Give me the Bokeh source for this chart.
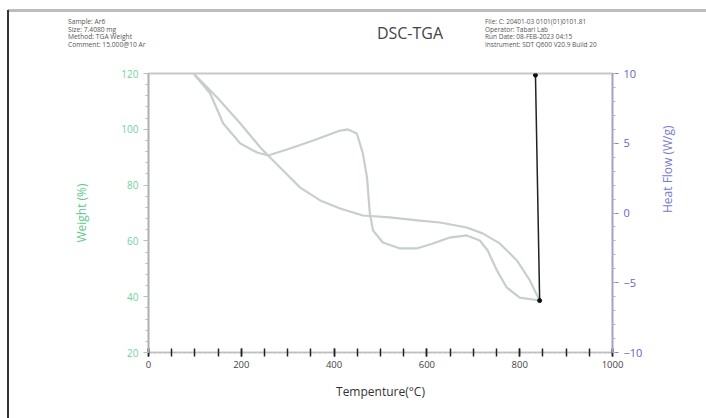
import math
from bokeh.plotting import figure
from bokeh.models import Range1d, LinearAxis, SingleIntervalTicker, Div
from bokeh.layouts import column
from bokeh.embed import file_html
from bokeh.resources import INLINE

# ---- data ----
weight_temp = [97, 148, 198, 241, 262, 290, 327, 370, 413, 462, 520, 585, 628,
               686, 720, 757, 794, 822, 843]
weight_pct = [120.0, 111.4, 102.1, 93.5, 89.9, 85.2, 79.1, 74.5, 71.6, 69.1, 68.4,
              67.3, 66.6, 64.8, 62.7, 59.1, 53.0, 45.8, 38.6]

hf_temp = [97, 133, 161, 198, 234, 258, 305, 355, 413, 430, 449, 462, 471, 477,
           484, 505, 542, 578, 613, 649, 686, 714, 731, 751, 772, 800, 843]
hf_val = [10.0, 8.57, 6.42, 4.98, 4.34, 4.12, 4.62, 5.20, 5.91, 5.99, 5.70, 4.27,
          2.54, -0.04, -1.25, -2.11, -2.54, -2.54, -2.19, -1.76, -1.61, -1.97,
          -2.69, -4.12, -5.34, -6.06, -6.27]

marker_temp = [834, 843]
marker_weight = [119.4, 38.6]

header_left = ["Sample: Ar6", "Size: 7.4080 mg", "Method: TGA Weight",
               "Comment: 15.000@10 Ar"]
header_right = ["File: C: 20401-03 0101(01)0101.81", "Operator: Tabari Lab",
                "Run Date: 08-FEB-2023 04:15", "Instrument: SDT Q600 V20.9 Build 20"]
chart_title = "DSC-TGA"

W, H = 706, 418
HEAD_H = 63
FL, FR, FT, FB = 148, 612, 73, 352
FONT = "Open Sans"
EDGE = 9           # page edge (margin 7 + 2px border)
RIGHT_END = W + 8  # figure extends a little past the window edge
BOTTOM_END = H + 6

# ---------------- header (HTML text) ----------------
left_html = "<br>".join(header_left)
right_html = "<br>".join(header_right)
head_html = f"""
<div style="position:relative;width:{W}px;height:{HEAD_H}px;font-family:'{FONT}',sans-serif;overflow:hidden;margin:0;padding:0;">
  <div style="position:absolute;left:8px;top:9px;width:{W - 8}px;height:3px;background:#bdbdbd;"></div>
  <div style="position:absolute;left:7px;top:10px;width:2px;height:{HEAD_H - 10}px;background:#333333;"></div>
  <div style="position:absolute;left:68px;top:18px;font-size:6.7px;line-height:7.5px;color:#555555;white-space:nowrap;">{left_html}</div>
  <div style="position:absolute;left:485px;top:18px;font-size:6.5px;line-height:7.5px;color:#555555;white-space:nowrap;">{right_html}</div>
  <div style="position:absolute;left:350px;width:120px;top:22px;font-size:16px;line-height:22px;text-align:center;font-weight:500;color:#444444;">{chart_title}</div>
</div>
"""
hd = Div(text=head_html, width=W, height=HEAD_H, margin=(0, 0, 0, 0))

# ---------------- main chart ----------------
PH = BOTTOM_END - HEAD_H
p = figure(width=RIGHT_END - EDGE, height=PH, output_backend="svg",
           toolbar_location=None,
           x_range=Range1d(0, 1000), y_range=Range1d(20, 120),
           min_border_left=FL - EDGE, min_border_right=RIGHT_END - FR,
           min_border_top=FT - HEAD_H, min_border_bottom=BOTTOM_END - FB)
p.extra_y_ranges = {"hf": Range1d(-10, 10)}
p.xgrid.visible = False
p.ygrid.visible = False
p.outline_line_color = "#c8c8c8"
p.outline_line_width = 2
p.background_fill_color = "white"
p.border_fill_color = "white"
p.margin = (0, 0, 0, 7)
p.styles = {"border-left": "2px solid #333333"}

# x axis
xa = p.xaxis[0]
xa.ticker = SingleIntervalTicker(interval=200, num_minor_ticks=4)
xa.axis_label = "Tempenture(°C)"
xa.axis_label_text_font = FONT
xa.axis_label_text_font_style = "normal"
xa.axis_label_text_font_size = "12px"
xa.axis_label_text_color = "#333333"
xa.axis_label_standoff = 12
xa.major_label_text_font = FONT
xa.major_label_text_font_size = "9.5px"
xa.major_label_text_color = "#444444"
xa.major_label_standoff = 4
xa.axis_line_color = "#bbbbbb"
xa.axis_line_dash = "3 2"
xa.major_tick_in = 4
xa.major_tick_out = 4
xa.minor_tick_in = 4
xa.minor_tick_out = 4
xa.major_tick_line_color = "#222222"
xa.minor_tick_line_color = "#222222"
xa.major_tick_line_width = 1.5
xa.minor_tick_line_width = 1.5

# left axis (weight)
ya = p.yaxis[0]
ya.ticker = SingleIntervalTicker(interval=20, num_minor_ticks=5)
ya.axis_label = "Weight (%)"
ya.axis_label_text_font = FONT
ya.axis_label_text_font_style = "normal"
ya.axis_label_text_font_size = "12px"
ya.axis_label_text_color = "#5cc98c"
ya.axis_label_standoff = 28
ya.major_label_text_font = FONT
ya.major_label_text_font_size = "10px"
ya.major_label_text_color = "#6fd39a"
ya.axis_line_color = "#b0b0b0"
ya.axis_line_width = 1.5
ya.major_tick_in = 0
ya.major_tick_out = 5
ya.minor_tick_in = 0
ya.minor_tick_out = 3
ya.major_tick_line_color = "#8fd8ac"
ya.minor_tick_line_color = "#bbbbbb"

# right axis (heat flow)
ra = LinearAxis(y_range_name="hf",
                ticker=SingleIntervalTicker(interval=5, num_minor_ticks=5))
ra.axis_label = "Heat Flow (W/g)"
ra.axis_label_orientation = math.pi / 2
ra.axis_label_text_font = FONT
ra.axis_label_text_font_style = "normal"
ra.axis_label_text_font_size = "12px"
ra.axis_label_text_color = "#7a7ad2"
ra.axis_label_standoff = 22
ra.major_label_text_font = FONT
ra.major_label_text_font_size = "11px"
ra.major_label_text_color = "#6464c4"
ra.axis_line_color = "#a0a0c8"
ra.axis_line_width = 1.5
ra.major_tick_in = 0
ra.major_tick_out = 6
ra.minor_tick_in = 0
ra.minor_tick_out = 3
ra.major_tick_line_color = "#8080c8"
ra.minor_tick_line_color = "#b0b0d0"
p.add_layout(ra, "right")

# curves
CURVE = "#c6cfca"
p.line(weight_temp, weight_pct, line_color=CURVE, line_width=2.2)
p.line(hf_temp, hf_val, y_range_name="hf", line_color=CURVE, line_width=2.2)
p.line(marker_temp, marker_weight, line_color="#222222", line_width=1.5)
p.scatter(marker_temp, marker_weight, size=4, color="#111111")

layout = column(hd, p, spacing=0)
open("out.html", "w").write(file_html(layout, INLINE))
